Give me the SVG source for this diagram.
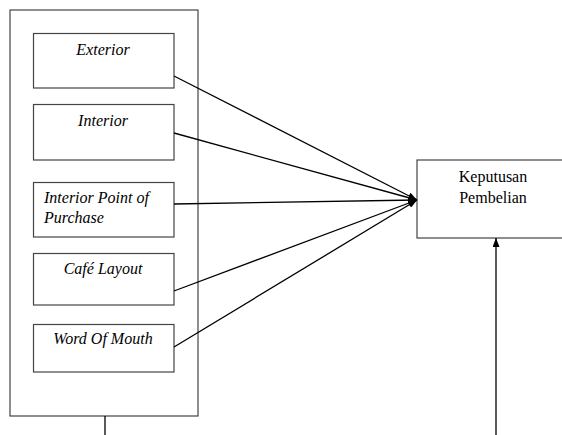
<svg xmlns="http://www.w3.org/2000/svg" width="562" height="435" viewBox="0 0 562 435">
<defs>
<marker id="ah" markerWidth="9" markerHeight="7" refX="9" refY="3.5" orient="auto" markerUnits="userSpaceOnUse">
<path d="M0,0 L9,3.5 L0,7 Z" fill="#000"/>
</marker>
</defs>
<style>
.box{fill:#fff;stroke:#444;stroke-width:1.2}
.lbl{font-family:"Liberation Serif","Times New Roman",serif;font-size:16px;fill:#000}
.it{font-style:italic}
.ln{stroke:#000;stroke-width:1.3;fill:none}
</style>
<rect width="562" height="435" fill="#fff"/>
<g id="outer">
<rect class="box" x="10" y="10" width="188" height="406"/>
</g>
<g id="exterior">
<rect class="box" x="33.5" y="33.5" width="140.5" height="54.5"/>
<text class="lbl it" x="103" y="55" text-anchor="middle">Exterior</text>
</g>
<g id="interior">
<rect class="box" x="33.5" y="104.5" width="140.5" height="55.5"/>
<text class="lbl it" x="103" y="126" text-anchor="middle">Interior</text>
</g>
<g id="ipp">
<rect class="box" x="33.5" y="182.5" width="140.5" height="54.5"/>
<text class="lbl it" x="44" y="203">Interior Point of</text>
<text class="lbl it" x="44" y="223">Purchase</text>
</g>
<g id="cafe">
<rect class="box" x="33.5" y="253.5" width="140.5" height="51.5"/>
<text class="lbl it" x="103" y="274" text-anchor="middle">Café Layout</text>
</g>
<g id="wom">
<rect class="box" x="33.5" y="324.5" width="140.5" height="47.5"/>
<text class="lbl it" x="103" y="344" text-anchor="middle">Word Of Mouth</text>
</g>
<g id="keputusan">
<rect class="box" x="417" y="160" width="160" height="78"/>
<text class="lbl" x="493" y="182" text-anchor="middle">Keputusan</text>
<text class="lbl" x="493" y="203" text-anchor="middle">Pembelian</text>
</g>
<g id="connectors">
<line class="ln" x1="174" y1="76" x2="417" y2="200" marker-end="url(#ah)"/>
<line class="ln" x1="174" y1="133" x2="417" y2="200" marker-end="url(#ah)"/>
<line class="ln" x1="174" y1="204" x2="417" y2="200" marker-end="url(#ah)"/>
<line class="ln" x1="174" y1="291" x2="417" y2="200" marker-end="url(#ah)"/>
<line class="ln" x1="174" y1="347" x2="417" y2="200" marker-end="url(#ah)"/>
<line class="ln" x1="105" y1="416" x2="105" y2="435"/>
<line class="ln" x1="496" y1="435" x2="496" y2="238" marker-end="url(#ah)"/>
</g>
</svg>
